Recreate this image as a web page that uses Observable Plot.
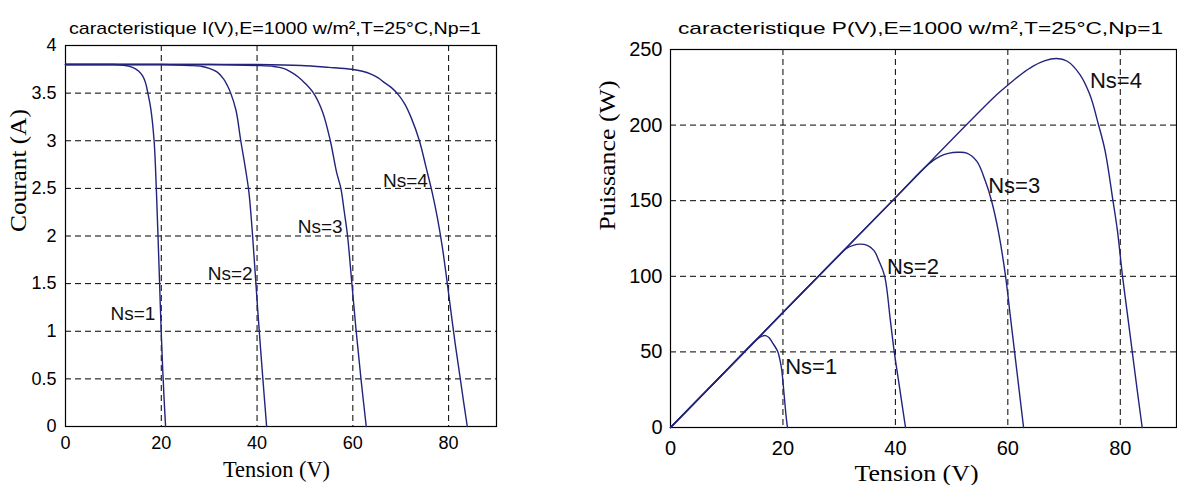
<!DOCTYPE html>
<html>
<head>
<meta charset="utf-8">
<script src="https://cdn.jsdelivr.net/npm/d3@7"></script>
<script src="https://cdn.jsdelivr.net/npm/@observablehq/plot@0.6"></script>
<style>
  html, body { margin: 0; padding: 0; background: #fff; }
  #wrap { position: relative; width: 1177px; height: 485px; overflow: hidden; background: #fff; }
  #iv, #pv { position: absolute; top: 0; }
  #iv { left: 0; }
  #pv { left: 580px; }
</style>
</head>
<body>
<div id="wrap"><div id="iv"></div><div id="pv"></div></div>
<script>
// Photovoltaic module characteristics for 1 to 4 cells in series (Ns), Np = 1
const seriesNames = ["Ns=1", "Ns=2", "Ns=3", "Ns=4"];

// I(V) curves: tension (V) and courant (A)
const ivV1 = [0, 5, 10, 12.5, 14, 15.3, 16.1, 16.7, 17.2, 17.8, 18.5, 19.0, 19.35, 19.65, 19.95, 20.3, 20.6, 20.9];
const ivI1 = [3.8, 3.8, 3.8, 3.79, 3.77, 3.73, 3.68, 3.61, 3.5, 3.34, 3.0, 2.45, 1.95, 1.5, 1.05, 0.6, 0.28, 0];
const ivV2 = [0, 10, 20, 26, 28.5, 30, 31.7, 33, 33.8, 34.5, 35.6, 36.6, 37.6, 38.3, 39.0, 39.6, 40.2, 40.8, 41.4, 42.0];
const ivI2 = [3.8, 3.8, 3.8, 3.79, 3.78, 3.76, 3.72, 3.65, 3.58, 3.5, 3.32, 3.0, 2.7, 2.46, 2.05, 1.62, 1.18, 0.77, 0.38, 0];
const ivV3 = [0, 15, 30, 40, 43.5, 45.5, 47.1, 48.6, 49.9, 51.8, 53.7, 55.3, 56.6, 57.5, 58.2, 58.9, 59.8, 60.7, 61.7, 62.8];
const ivI3 = [3.8, 3.8, 3.8, 3.79, 3.78, 3.76, 3.72, 3.67, 3.61, 3.5, 3.3, 3.0, 2.67, 2.5, 2.26, 2.0, 1.5, 1.0, 0.5, 0];
const ivV4 = [0, 20, 40, 49.2, 55, 59.7, 62, 63.8, 65.3, 66.6, 68, 69.4, 70.8, 72.2, 73.9, 75.3, 76.6, 77.7, 78.7, 79.6, 80.5, 81.4, 82.3, 83.1, 83.9];
const ivI4 = [3.8, 3.8, 3.8, 3.79, 3.77, 3.75, 3.73, 3.70, 3.66, 3.61, 3.56, 3.49, 3.39, 3.24, 3.0, 2.72, 2.45, 2.18, 1.88, 1.55, 1.2, 0.86, 0.55, 0.27, 0];

// P(V) curves: tension (V) and puissance (W)
const pvV1 = [0, 5, 10, 15, 16, 16.9, 17.5, 18.1, 19.1, 19.5, 19.8, 20.2, 20.55, 20.8];
const pvP1 = [0, 19, 38, 57, 60, 60.8, 59.5, 56.3, 50, 44, 37.6, 22, 8, 0];
const pvV2 = [0, 10, 20, 30, 31.3, 32.5, 33.7, 35, 36.2, 37.1, 38.1, 39.1, 39.8, 40.8, 41.8];
const pvP2 = [0, 38, 76, 114, 118.5, 120.5, 121.3, 120.5, 117, 110, 100, 71, 50, 25, 0];
const pvV3 = [0, 20, 40, 46, 48, 49.6, 51, 52.7, 54.5, 56, 57.1, 58.3, 59.6, 60.4, 61.2, 62.0, 62.8];
const pvP3 = [0, 76, 152, 174.5, 179.5, 181.5, 182, 181.5, 176, 163, 150, 130, 100, 75, 50, 25, 0];
const pvV4 = [0, 20, 40, 58, 60.5, 62.5, 64.5, 66.5, 68.7, 70.5, 72.8, 74.6, 76.1, 77.3, 78.7, 79.5, 80.4, 81.2, 82.1, 83, 83.9];
const pvP4 = [0, 76, 152, 220, 228, 234, 239, 242.5, 244, 242.4, 233.6, 220, 200.6, 183, 150, 130, 100, 77, 51, 25, 0];

// Ticks and grid
const vTicks = [0, 20, 40, 60, 80];
const vGrid = [20, 40, 60, 80];
const iTicks = [0, 0.5, 1, 1.5, 2, 2.5, 3, 3.5, 4];
const pTicks = [0, 50, 100, 150, 200, 250];

// Curve annotations (data coordinates)
const ivLabelV = [9.4, 29.7, 48.5, 66.3];
const ivLabelI = [1.18, 1.6, 2.1, 2.58];
const pvLabelV = [20.4, 38.5, 56.5, 74.6];
const pvLabelP = [39.8, 105.9, 159.8, 229.2];

// Texts
const titleIV = "caracteristique I(V),E=1000 w/m²,T=25°C,Np=1";
const titlePV = "caracteristique P(V),E=1000 w/m²,T=25°C,Np=1";
const xLabel = "Tension (V)";
const ivYLabel = "Courant (A)";
const pvYLabel = "Puissance (W)";

// Tables built from the arrays above
const ivSeries = [[ivV1, ivI1], [ivV2, ivI2], [ivV3, ivI3], [ivV4, ivI4]];
const pvSeries = [[pvV1, pvP1], [pvV2, pvP2], [pvV3, pvP3], [pvV4, pvP4]];
const ivRows = ivSeries.flatMap(([vs, ys], k) => vs.map((v, j) => ({ns: seriesNames[k], v, y: ys[j]})));
const pvRows = pvSeries.flatMap(([vs, ys], k) => vs.map((v, j) => ({ns: seriesNames[k], v, y: ys[j]})));
const ivLabels = seriesNames.map((ns, k) => ({ns, v: ivLabelV[k], y: ivLabelI[k]}));
const pvLabels = seriesNames.map((ns, k) => ({ns, v: pvLabelV[k], y: pvLabelP[k]}));

const sans = "'Liberation Sans', Arial, sans-serif";
const serif = "'Liberation Serif', 'Times New Roman', serif";
const curveColor = "#23237c";
const gridStyle = {stroke: "black", strokeOpacity: 1, strokeWidth: 1, strokeDasharray: "6,4"};

// Stretch the text element carrying a given string to a drawn length
function fitText(svg, content, length) {
  svg.querySelectorAll("text").forEach((t) => {
    if (t.textContent === content) {
      t.setAttribute("textLength", length);
      t.setAttribute("lengthAdjust", "spacingAndGlyphs");
    }
  });
}

// Left panel: I(V)
const ivPlot = Plot.plot({
  width: 580, height: 485,
  marginLeft: 65, marginRight: 84, marginTop: 45, marginBottom: 59,
  x: {domain: [0, 90]},
  y: {domain: [0, 4]},
  style: {fontFamily: sans, background: "white", overflow: "visible", color: "black"},
  marks: [
    Plot.gridX(vGrid, gridStyle),
    Plot.gridY(iTicks, gridStyle),
    Plot.frame({stroke: "black", strokeWidth: 1.2}),
    Plot.axisX(vTicks, {tickSize: 0, tickPadding: 10, fontSize: 18, label: null}),
    Plot.axisY(iTicks, {tickSize: 0, tickPadding: 9, fontSize: 18, label: null, tickFormat: (d) => String(d)}),
    Plot.line(ivRows, {x: "v", y: "y", z: "ns", stroke: curveColor, strokeWidth: 1.4, curve: "catmull-rom"}),
    Plot.text(ivLabels, {x: "v", y: "y", text: "ns", textAnchor: "start", fontSize: 19, fill: "#111"}),
    Plot.text([titleIV], {text: (d) => d, frameAnchor: "top", lineAnchor: "bottom", dx: -6, dy: -11.5, fontSize: 17}),
    Plot.text([xLabel], {text: (d) => d, frameAnchor: "bottom", lineAnchor: "bottom", dx: -4.5, dy: 50, fontSize: 23, fontFamily: serif}),
    Plot.text([ivYLabel], {text: (d) => d, frameAnchor: "left", rotate: -90, dx: -47, dy: -4, fontSize: 23, fontFamily: serif})
  ]
});
fitText(ivPlot, titleIV, 412);
fitText(ivPlot, xLabel, 107);
fitText(ivPlot, ivYLabel, 123);
document.getElementById("iv").appendChild(ivPlot);

// Right panel: P(V)
const pvPlot = Plot.plot({
  width: 597, height: 485,
  marginLeft: 90, marginRight: 1, marginTop: 49, marginBottom: 58,
  x: {domain: [0, 90]},
  y: {domain: [0, 250]},
  style: {fontFamily: sans, background: "white", overflow: "visible", color: "black"},
  marks: [
    Plot.gridX(vGrid, gridStyle),
    Plot.gridY(pTicks, gridStyle),
    Plot.frame({stroke: "black", strokeWidth: 1.2}),
    Plot.axisX(vTicks, {tickSize: 0, tickPadding: 13, fontSize: 20, label: null}),
    Plot.axisY(pTicks, {tickSize: 0, tickPadding: 8, fontSize: 20, label: null}),
    Plot.line(pvRows, {x: "v", y: "y", z: "ns", stroke: curveColor, strokeWidth: 1.4, curve: "catmull-rom"}),
    Plot.text(pvLabels, {x: "v", y: "y", text: "ns", textAnchor: "start", fontSize: 22, fill: "#111"}),
    Plot.text([titlePV], {text: (d) => d, frameAnchor: "top", lineAnchor: "bottom", dx: -3, dy: -16, fontSize: 17}),
    Plot.text([xLabel], {text: (d) => d, frameAnchor: "bottom", lineAnchor: "bottom", dx: -7, dy: 53, fontSize: 24, fontFamily: serif}),
    Plot.text([pvYLabel], {text: (d) => d, frameAnchor: "left", rotate: -90, dx: -63, dy: -8, fontSize: 23, fontFamily: serif})
  ]
});
fitText(pvPlot, titlePV, 485);
fitText(pvPlot, xLabel, 124);
fitText(pvPlot, pvYLabel, 150);
document.getElementById("pv").appendChild(pvPlot);
</script>
</body>
</html>
